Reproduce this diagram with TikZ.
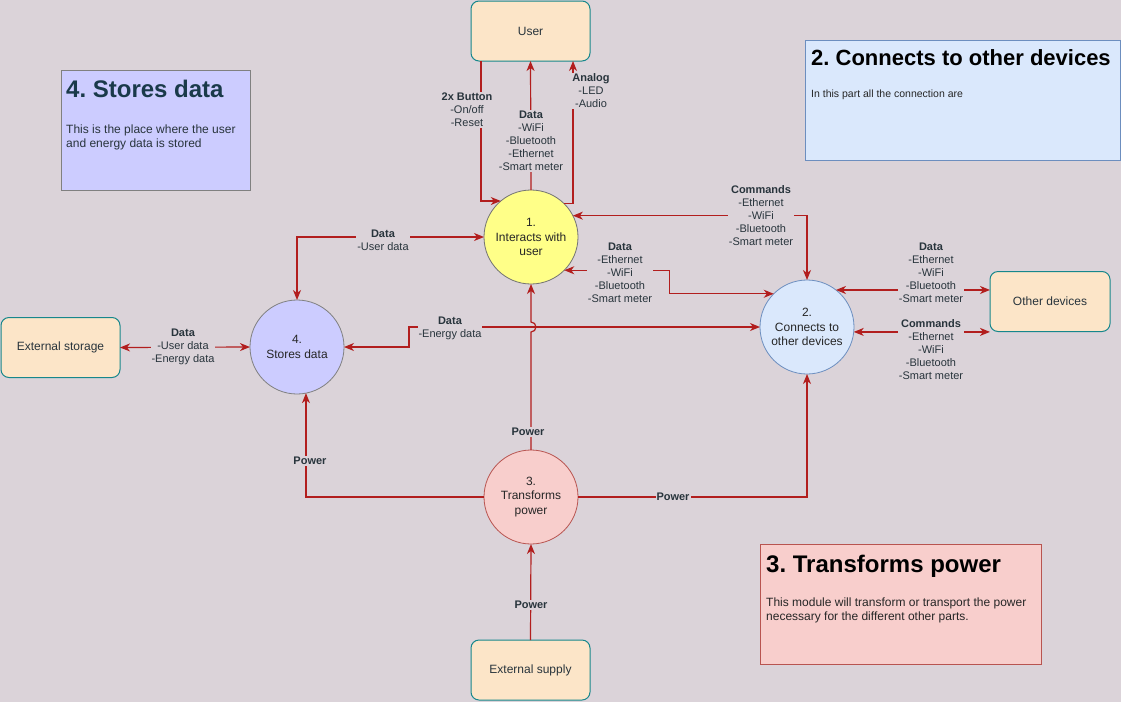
\documentclass[tikz,border=0pt]{standalone}
\usepackage{fontspec}
\setmainfont{Liberation Sans}
\usetikzlibrary{arrows.meta}
\definecolor{bgc}{RGB}{219,211,217}
\definecolor{edgec}{RGB}{178,30,30}
\definecolor{lblc}{RGB}{40,52,60}
\definecolor{boxfill}{RGB}{252,229,200}
\definecolor{boxdraw}{RGB}{22,135,140}
\definecolor{yfill}{RGB}{255,255,136}
\definecolor{bfill}{RGB}{218,232,252}
\definecolor{bdraw}{RGB}{108,142,191}
\definecolor{rfill}{RGB}{248,206,204}
\definecolor{rdraw}{RGB}{184,84,80}
\definecolor{pfill}{RGB}{204,204,255}
\definecolor{pdraw}{RGB}{128,128,128}
\definecolor{headc}{RGB}{26,58,74}
\frenchspacing
\begin{document}
\begin{tikzpicture}[x=1pt,y=-1pt,
  extbox/.style={draw=boxdraw,fill=boxfill,rounded corners=8pt,line width=1pt,minimum width=119pt,minimum height=60pt,inner sep=0pt,outer sep=0pt,font=\fontsize{12}{14.5}\selectfont,text=lblc},
  proc/.style={circle,draw,line width=0.8pt,minimum size=94pt,inner sep=0pt,outer sep=0pt,align=center,font=\fontsize{12}{14.5}\selectfont,text=black!85},
  conn/.style={draw=edgec,line width=1.2pt},
  tip/.style={-{Stealth[length=10pt,width=8pt,inset=3pt]}},
  tips/.style={{Stealth[length=10pt,width=8pt,inset=3pt]}-{Stealth[length=10pt,width=8pt,inset=3pt]}},
  lbl/.style={fill=bgc,inner sep=1pt,align=center,text=lblc,font=\fontsize{11}{13}\selectfont},
]
\useasboundingbox (0,0) rectangle (1121,702);
\fill[bgc] (0,0) rectangle (1121,702);

% info boxes
\draw[fill=pfill,draw=pdraw,line width=1pt] (61,70) rectangle (250,190);
\node[anchor=base west,inner sep=0pt,text=headc,font=\fontsize{24}{28}\selectfont\bfseries] (h4) at (66,97) {4. Stores data};
\node[anchor=base west,inner sep=0pt,text=lblc,align=left,font=\fontsize{12}{14}\selectfont] (t4) at (66,147) {This is the place where the user\\and energy data is stored};

\draw[fill=bfill,draw=bdraw,line width=1pt] (805,40) rectangle (1120,160);
\node[anchor=base west,inner sep=0pt,text=black,font=\fontsize{22}{26}\selectfont\bfseries] (h2) at (811,65) {2. Connects to other devices};
\node[anchor=base west,inner sep=0pt,text=black!85,font=\fontsize{10.5}{13}\selectfont] (t2) at (811,97) {In this part all the connection are};

\draw[fill=rfill,draw=rdraw,line width=1pt] (760,544) rectangle (1041,664);
\node[anchor=base west,inner sep=0pt,text=black,font=\fontsize{24}{28}\selectfont\bfseries] (h3) at (766,572) {3. Transforms power};
\node[anchor=base west,inner sep=0pt,text=black!85,align=left,font=\fontsize{12}{14}\selectfont] (t3) at (766,620) {This module will transform or transport the power\\necessary for the different other parts.};

% nodes
\node[extbox] (user) at (530.5,31) {User};
\node[extbox] (ext) at (60.5,347.5) {External storage};
\node[extbox,minimum width=120pt] (oth) at (1050,301.5) {Other devices};
\node[extbox] (sup) at (530.5,670) {External supply};

\node[proc,fill=yfill,draw=black!55] (n1) at (531,237) {1.\\Interacts with\\user};
\node[proc,fill=bfill,draw=bdraw] (n2) at (807,327) {2.\\Connects to\\other devices};
\node[proc,fill=rfill,draw=rdraw] (n3) at (531,497) {3.\\Transforms\\power};
\node[proc,fill=pfill,draw=pdraw] (n4) at (297,347) {4.\\Stores data};

% connectors
\draw[conn,tip] ([xshift=10pt]user.south west) |- (n1.130);
\draw[conn,tip] (n1.north) -- (user.south);
\draw[conn,tip] (n1.45) -| ([xshift=-17pt]user.south east);
\draw[conn,tips] (n1.27) -| (n2.north);
\draw[conn,tips] (n1.-45) -- ++(105,0) |- (n2.135);
\draw[conn,tips] (n4.east) -- ++(65,0) |- (n2.west);
\draw[conn,tips] (n1.west) -| (n4.north);
\draw[conn,tips] (ext.east) -- (n4.west);
\draw[conn,tips] (n2.52) -- (n2.52 -| oth.west);
\draw[conn,tips] (n2.-6) -- (n2.-6 -| oth.west);
\draw[conn,tip] (n3.north) -- (531,332) arc[start angle=90,end angle=-90,radius=5] -- (n1.south);
\draw[conn,tip] (n3.west) -| (n4.-79);
\draw[conn,tip] (n3.east) -| (n2.south);
\draw[conn,tip] (sup.north) -- (n3.south);

% labels
\node[lbl] (l1) at (467,110) {\textbf{2x Button}\\-On/off\\-Reset};
\node[lbl] (l2) at (531,141) {\textbf{Data}\\-WiFi\\-Bluetooth\\-Ethernet\\-Smart meter};
\node[lbl] (l3) at (591,91) {\textbf{Analog}\\-LED\\-Audio};
\node[lbl] (l4) at (761,216) {\textbf{Commands}\\-Ethernet\\-WiFi\\-Bluetooth\\-Smart meter};
\node[lbl] (l5) at (620,273) {\textbf{Data}\\-Ethernet\\-WiFi\\-Bluetooth\\-Smart meter};
\node[lbl] (l6) at (383,240) {\textbf{Data}\\-User data};
\node[lbl] (l7) at (450,328) {\textbf{Data}\\-Energy data};
\node[lbl] (l8) at (183,347) {\textbf{Data}\\-User data\\-Energy data};
\node[lbl] (l9) at (931,273) {\textbf{Data}\\-Ethernet\\-WiFi\\-Bluetooth\\-Smart meter};
\node[lbl] (l10) at (931,350) {\textbf{Commands}\\-Ethernet\\-WiFi\\-Bluetooth\\-Smart meter};
\node[lbl] (l11) at (528,432) {\textbf{Power}};
\node[lbl] (l12) at (310,461) {\textbf{Power}};
\node[lbl] (l13) at (673,497) {\textbf{Power}};
\node[lbl] (l14) at (531,605) {\textbf{Power}};
\end{tikzpicture}
\end{document}
